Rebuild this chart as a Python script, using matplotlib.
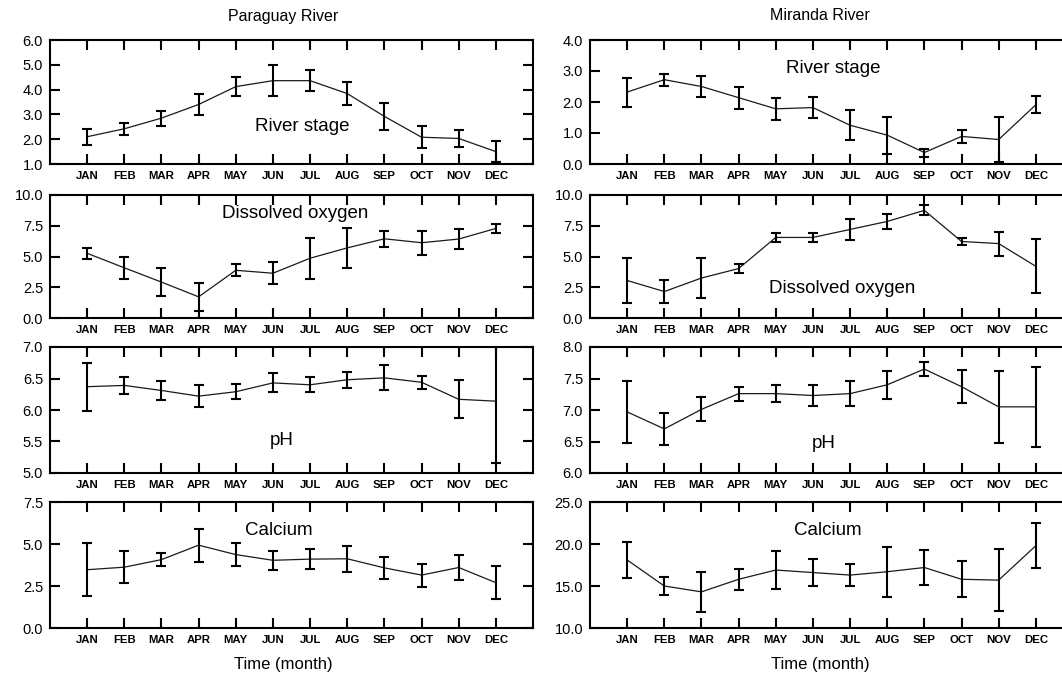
#!/usr/bin/env python3
from __future__ import annotations

import matplotlib

matplotlib.use("Agg")
import matplotlib.pyplot as plt
import numpy as np

months = ["JAN", "FEB", "MAR", "APR", "MAY", "JUN", "JUL", "AUG", "SEP", "OCT", "NOV", "DEC"]
rivers = ["Paraguay River", "Miranda River"]
variables = ["River stage", "Dissolved oxygen", "pH", "Calcium"]

# Paraguay River: means and half-widths of the error bars
par_stage = [2.1, 2.42, 2.85, 3.4, 4.12, 4.36, 4.36, 3.84, 2.92, 2.08, 2.03, 1.5]
par_stage_err = [0.33, 0.25, 0.3, 0.42, 0.37, 0.63, 0.42, 0.45, 0.53, 0.44, 0.35, 0.42]
par_do = [5.26, 4.08, 2.92, 1.72, 3.88, 3.64, 4.86, 5.7, 6.44, 6.12, 6.42, 7.28]
par_do_err = [0.43, 0.88, 1.15, 1.12, 0.5, 0.88, 1.65, 1.6, 0.65, 0.96, 0.78, 0.4]
par_ph = [6.37, 6.39, 6.31, 6.22, 6.29, 6.43, 6.4, 6.48, 6.51, 6.44, 6.17, 6.14]
par_ph_err = [0.38, 0.14, 0.145, 0.18, 0.12, 0.15, 0.12, 0.13, 0.2, 0.1, 0.3, 0.98]
par_ca = [3.47, 3.62, 4.07, 4.93, 4.37, 4.03, 4.1, 4.12, 3.58, 3.15, 3.6, 2.7]
par_ca_err = [1.58, 0.94, 0.38, 0.98, 0.68, 0.55, 0.6, 0.78, 0.65, 0.68, 0.77, 0.99]

# Miranda River
mir_stage = [2.32, 2.72, 2.5, 2.14, 1.78, 1.82, 1.25, 0.93, 0.37, 0.89, 0.79, 1.91]
mir_stage_err = [0.47, 0.19, 0.35, 0.36, 0.36, 0.33, 0.48, 0.6, 0.13, 0.21, 0.72, 0.27]
mir_do = [3.05, 2.15, 3.25, 4.02, 6.55, 6.55, 7.2, 7.85, 8.75, 6.22, 6.05, 4.2]
mir_do_err = [1.8, 0.9, 1.6, 0.38, 0.35, 0.4, 0.82, 0.58, 0.4, 0.27, 0.98, 2.2]
mir_ph = [6.97, 6.7, 7.01, 7.26, 7.26, 7.23, 7.26, 7.4, 7.65, 7.37, 7.05, 7.05]
mir_ph_err = [0.49, 0.25, 0.19, 0.11, 0.13, 0.17, 0.2, 0.22, 0.11, 0.26, 0.57, 0.64]
mir_ca = [18.1, 15.0, 14.3, 15.8, 16.9, 16.6, 16.3, 16.7, 17.2, 15.8, 15.7, 19.8]
mir_ca_err = [2.1, 1.13, 2.4, 1.23, 2.25, 1.65, 1.35, 3.0, 2.1, 2.15, 3.67, 2.7]

# y ranges and ticks per panel
par_ylims = [(1.0, 6.0), (0.0, 10.0), (5.0, 7.0), (0.0, 7.5)]
par_yticks = [[1, 2, 3, 4, 5, 6], [0, 2.5, 5, 7.5, 10], [5, 5.5, 6, 6.5, 7], [0, 2.5, 5, 7.5]]
mir_ylims = [(0.0, 4.0), (0.0, 10.0), (6.0, 8.0), (10.0, 25.0)]
mir_yticks = [[0, 1, 2, 3, 4], [0, 2.5, 5, 7.5, 10], [6, 6.5, 7, 7.5, 8], [10, 15, 20, 25]]

# where the panel label sits (month, value)
par_label_pos = [(6.8, 2.5), (6.6, 8.5), (6.25, 5.52), (6.15, 5.8)]
mir_label_pos = [(6.55, 3.08), (6.8, 2.4), (6.3, 6.47), (6.4, 21.6)]


def main() -> int:
    plt.rcParams.update(
        {
            "font.family": ["Liberation Sans", "DejaVu Sans"],
            "axes.linewidth": 1.5,
            "xtick.direction": "in",
            "ytick.direction": "in",
            "xtick.top": True,
            "ytick.right": True,
            "xtick.major.size": 7,
            "ytick.major.size": 7,
            "xtick.major.width": 1.5,
            "ytick.major.width": 1.5,
            "figure.facecolor": "white",
        }
    )

    W, H = 1062, 685
    fig = plt.figure(figsize=(W / 100, H / 100), dpi=100)

    rows_px = [(40, 164), (195, 318), (347, 473), (502, 628)]
    cols_px = [50, 590]
    width_px = 483

    par = [(par_stage, par_stage_err), (par_do, par_do_err), (par_ph, par_ph_err), (par_ca, par_ca_err)]
    mir = [(mir_stage, mir_stage_err), (mir_do, mir_do_err), (mir_ph, mir_ph_err), (mir_ca, mir_ca_err)]
    columns = [
        (par, par_ylims, par_yticks, par_label_pos),
        (mir, mir_ylims, mir_yticks, mir_label_pos),
    ]

    x = np.arange(1, 13)
    for c, (series, ylims, yticks, label_pos) in enumerate(columns):
        for r in range(4):
            top, bottom = rows_px[r]
            ax = fig.add_axes(
                [cols_px[c] / W, 1 - bottom / H, width_px / W, (bottom - top) / H]
            )
            mean, err = series[r]
            ax.plot(x, mean, color="#1a1a1a", lw=0.9, zorder=2)
            ax.errorbar(
                x, mean, yerr=err, fmt="none", ecolor="black",
                elinewidth=1.5, capsize=3.8, capthick=1.5, zorder=3,
            )
            ax.set_xlim(0, 13)
            ax.set_ylim(*ylims[r])
            ax.set_xticks(x)
            ax.set_xticklabels(months, fontsize=8.2, fontweight="bold")
            ax.set_yticks(yticks[r])
            ax.set_yticklabels([f"{v:.1f}" for v in yticks[r]], fontsize=10.5)
            ax.tick_params(axis="x", pad=5)
            ax.tick_params(axis="y", pad=5)
            lx, ly = label_pos[r]
            ax.text(lx, ly, variables[r], ha="center", va="center", fontsize=13.5)

    for c, name in enumerate(rivers):
        cx = [283, 820][c]
        fig.text(cx / W, 1 - 16 / H, name, ha="center", va="center", fontsize=11.5)
        fig.text(cx / W, 1 - 665 / H, "Time (month)", ha="center", va="center", fontsize=12)

    fig.savefig("out.png", dpi=100)
    return 0


if __name__ == "__main__":
    raise SystemExit(main())
